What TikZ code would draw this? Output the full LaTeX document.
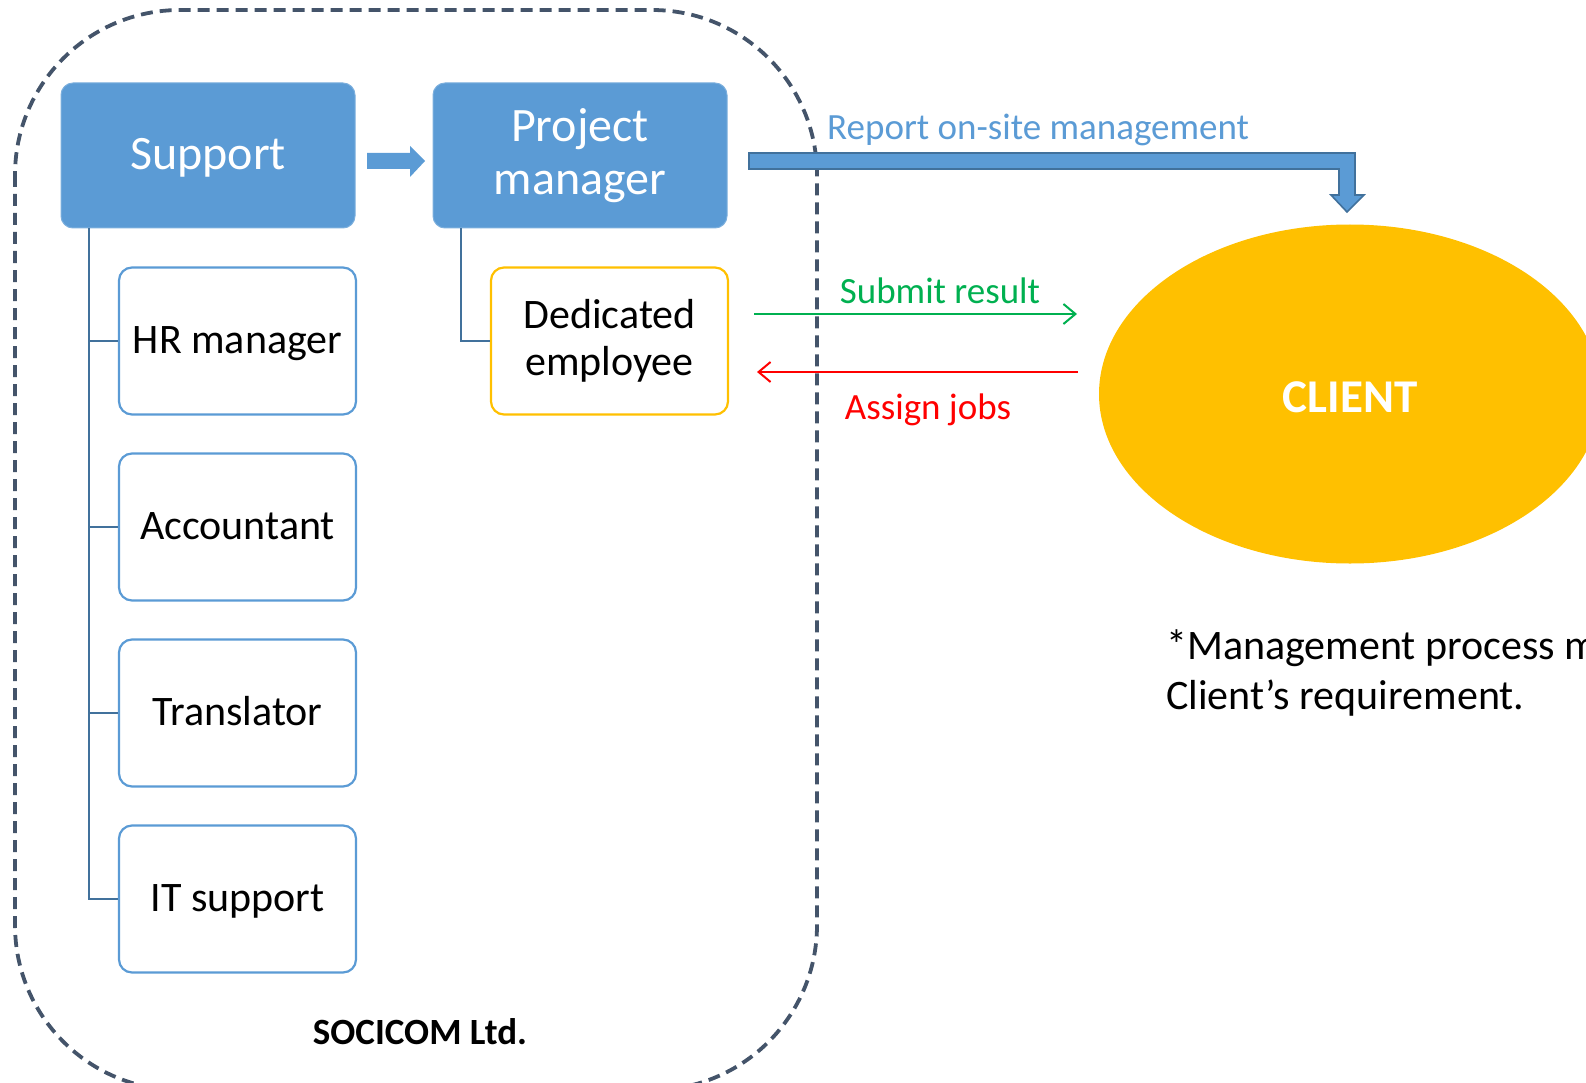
\documentclass[tikz,border=0pt]{standalone}
\usepackage{fontspec}
\setmainfont{Carlito}
\usetikzlibrary{arrows.meta,shapes.geometric}
\definecolor{accblue}{HTML}{5B9BD5}
\definecolor{darkblue}{HTML}{41719C}
\definecolor{gold}{HTML}{FFC000}
\definecolor{slate}{HTML}{44546A}
\definecolor{okgreen}{HTML}{00B050}
\begin{document}
\begin{tikzpicture}[x=1pt,y=-1pt,
  headbox/.style={draw=accblue!80!white,line width=1pt,fill=accblue,rounded corners=12pt,
    minimum width=294pt,minimum height=145pt,text=white,align=center,
    font=\fontsize{48}{53}\selectfont,inner sep=0pt},
  rolebox/.style={draw=accblue,line width=2.2pt,fill=white,rounded corners=13pt,
    minimum width=237pt,minimum height=147pt,align=center,
    font=\fontsize{42}{47}\selectfont,inner sep=0pt},
  onelineA/.style={text height=25pt,text depth=0pt},
  onelineB/.style={text height=29pt,text depth=0pt},
  conn/.style={draw=darkblue,line width=2.4pt},
  lbl/.style={font=\fontsize{37}{42}\selectfont,inner sep=0pt}]
\path[use as bounding box] (0,0) rectangle (1586,1083);
\clip (0,0) rectangle (1586,1083);

% company boundary
\draw[slate,line width=3.8pt,dash pattern=on 12pt off 7pt,rounded corners=165pt]
  (15,10) rectangle (817,1090);

% head boxes
\node[headbox,onelineB] (sup) at (208,155.5) {Support};
\node[headbox] (pm) at (580,155.5) {Project\\manager};

% small arrow Support -> PM
\fill[accblue] (367,153) -- (410,153) -- (410,146) -- (425,161) -- (410,177) -- (410,169) -- (367,169) -- cycle;

% role boxes
\node[rolebox,onelineA] (hr) at (237.5,341) {HR manager};
\node[rolebox,onelineA] (acc) at (237.5,527) {Accountant};
\node[rolebox,onelineA] (tr) at (237.5,713) {Translator};
\node[rolebox,onelineA] (it) at (237.5,899) {IT support};
\node[rolebox,draw=gold] (de) at (609.5,341) {Dedicated\\employee};

% tree connectors
\coordinate (sroot) at (89,228);
\draw[conn] (sroot) -- (89,899) -- (it.west);
\draw[conn] (89,341) -- (hr.west);
\draw[conn] (89,527) -- (acc.west);
\draw[conn] (89,713) -- (tr.west);
\coordinate (proot) at (461,228);
\draw[conn] (proot) -- (461,341) -- (de.west);

% client
\node[ellipse,fill=gold,minimum width=502pt,minimum height=339pt,inner sep=0pt,
  text=white,text height=36pt,text depth=0pt,font=\fontsize{47}{52}\selectfont\bfseries] (cl) at (1350,394) {CLIENT};

% report arrow (bent block arrow)
\filldraw[fill=accblue,draw=darkblue,line width=1.6pt,line join=miter]
  (749,153) -- (1355,153) -- (1355,195) -- (1364,195) -- (1347,212) -- (1331,195)
  -- (1339,195) -- (1339,169) -- (749,169) -- cycle;
\node[lbl,text=accblue,anchor=base west] (rep) at (827,140) {Report on-site management};

% submit / assign
\coordinate (s1) at (754,314);
\coordinate (s2) at (1077,314);
\draw[okgreen,line width=2pt,-{Straight Barb[length=12pt,width=20pt,line width=2pt]}] (s1) -- (s2);
\node[lbl,text=okgreen] (sub) at (940,291) {Submit result};
\coordinate (a1) at (1078,372);
\coordinate (a2) at (757,372);
\draw[red,line width=2pt,-{Straight Barb[length=12pt,width=20pt,line width=2pt]}] (a1) -- (a2);
\node[lbl,text=red] (asg) at (928,410) {Assign jobs};

% company name
\node[font=\fontsize{37}{42}\selectfont\bfseries,inner sep=0pt] (soc) at (420,1032) {SOCICOM Ltd.};

% note
\node[font=\fontsize{42}{50}\selectfont,align=left,anchor=base west,inner sep=0pt] (note) at (1166,709.5)
  {*Management process may be changed\\Client’s requirement.};
\end{tikzpicture}
\end{document}
